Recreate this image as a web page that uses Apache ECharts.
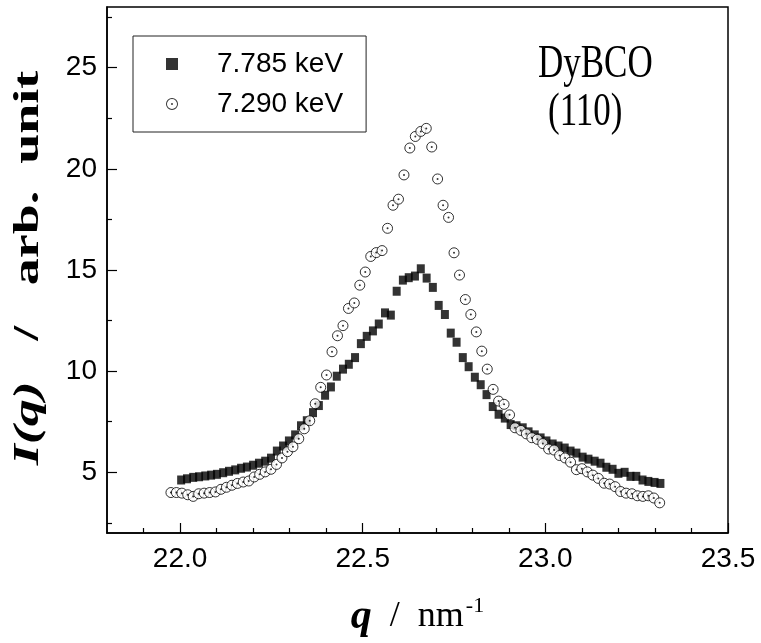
<!DOCTYPE html>
<html>
<head>
<meta charset="utf-8">
<script src="https://cdn.jsdelivr.net/npm/echarts@6/dist/echarts.min.js"></script>
<style>
html,body{margin:0;padding:0;background:#fff;}
#chart{width:761px;height:643px;}
</style>
</head>
<body>
<div id="chart"></div>
<script>
// ---- data ----
const seriesNames = ['7.785 keV', '7.290 keV'];

// 7.785 keV (filled squares)
const qA = [22.003,22.019,22.036,22.052,22.069,22.085,22.101,22.118,22.134,22.151,
  22.167,22.183,22.200,22.216,22.233,22.249,22.265,22.282,22.298,22.315,
  22.331,22.347,22.364,22.380,22.397,22.413,22.429,22.446,22.462,22.479,
  22.495,22.511,22.528,22.544,22.561,22.577,22.593,22.610,22.626,22.643,
  22.659,22.675,22.692,22.708,22.725,22.741,22.757,22.774,22.790,22.807,
  22.823,22.839,22.856,22.872,22.889,22.905,22.921,22.938,22.954,22.971,
  22.987,23.003,23.020,23.036,23.053,23.069,23.085,23.102,23.118,23.135,
  23.151,23.167,23.184,23.200,23.217,23.233,23.249,23.266,23.282,23.299,23.315];
const IA = [4.62,4.68,4.75,4.78,4.82,4.86,4.90,4.98,5.05,5.12,
  5.20,5.26,5.35,5.45,5.55,5.70,6.05,6.30,6.55,6.85,
  7.30,7.55,7.95,8.30,8.81,9.22,9.75,10.10,10.34,10.67,
  11.36,11.72,11.99,12.33,12.88,12.77,13.95,14.50,14.62,14.70,
  15.06,14.60,14.14,13.25,12.80,11.88,11.43,10.67,10.22,9.70,
  9.33,8.84,8.25,7.87,7.68,7.36,7.30,7.20,7.00,6.85,
  6.70,6.55,6.40,6.30,6.20,6.05,5.95,5.75,5.65,5.55,
  5.45,5.25,5.15,4.95,5.00,4.80,4.80,4.62,4.55,4.50,4.45];

// 7.290 keV (open circles)
const qB = [21.975,21.990,22.005,22.021,22.036,22.051,22.066,22.081,22.097,22.112,
  22.127,22.142,22.157,22.173,22.188,22.203,22.218,22.233,22.249,22.264,
  22.279,22.294,22.309,22.325,22.340,22.355,22.370,22.385,22.401,22.416,
  22.431,22.446,22.461,22.477,22.492,22.507,22.522,22.537,22.553,22.568,
  22.583,22.598,22.613,22.629,22.644,22.659,22.674,22.689,22.705,22.720,
  22.735,22.750,22.765,22.781,22.796,22.811,22.826,22.841,22.857,22.872,
  22.887,22.902,22.917,22.933,22.948,22.963,22.978,22.993,23.009,23.024,
  23.039,23.054,23.069,23.085,23.100,23.115,23.130,23.145,23.161,23.176,
  23.191,23.206,23.221,23.237,23.252,23.267,23.282,23.297,23.313];
const IB = [4.00,4.00,3.97,3.89,3.81,3.94,3.97,4.00,4.03,4.16,
  4.26,4.36,4.45,4.52,4.57,4.77,4.90,5.02,5.15,5.39,
  5.71,6.02,6.26,6.66,7.15,7.55,8.39,9.20,9.81,10.96,
  11.75,12.25,13.10,13.37,14.25,14.90,15.67,15.86,15.96,17.06,
  18.20,18.50,19.70,21.03,21.60,21.85,22.00,21.08,19.50,18.20,
  17.60,15.85,14.75,13.54,12.80,11.94,10.99,10.10,9.10,8.52,
  8.36,7.84,7.20,7.07,6.90,6.71,6.63,6.42,6.15,6.10,
  5.83,5.71,5.50,5.13,5.18,5.02,4.86,4.70,4.46,4.42,
  4.29,4.05,3.97,3.94,3.84,3.81,3.84,3.73,3.49];

// axes
const xMajorTicks = [22.0, 22.5, 23.0, 23.5];
const xTickLabels = ['22.0', '22.5', '23.0', '23.5'];
const xMinorTicks = [21.9,22.1,22.2,22.3,22.4,22.6,22.7,22.8,22.9,23.1,23.2,23.3,23.4];
const yMajorTicks = [5, 10, 15, 20, 25];
const yTickLabels = ['5', '10', '15', '20', '25'];
const yMinorTicks = [2.5, 7.5, 12.5, 17.5, 22.5, 27.5];
const annotations = ['DyBCO', '(110)'];

// ---- chart ----
const chart = echarts.init(document.getElementById('chart'), null, {renderer: 'canvas'});
const pairs = (xs, ys) => xs.map((x, i) => [x, ys[i]]);
const ringIcon = 'path://M0,10A10,10,0,1,1,20,10A10,10,0,1,1,0,10Z M1.6,10A8.4,8.4,0,1,0,18.4,10A8.4,8.4,0,1,0,1.6,10Z M8.4,10A1.6,1.6,0,1,1,11.6,10A1.6,1.6,0,1,1,8.4,10Z';
const labelFont = 'Liberation Sans';
const serif = 'Liberation Serif';

const xBase = {type: 'value', min: 21.8, max: 23.5, gridIndex: 0, position: 'bottom', splitLine: {show: false}};
const yBase = {type: 'value', min: 2, max: 28, gridIndex: 0, position: 'left', splitLine: {show: false}};

const option = {
  backgroundColor: '#fff',
  animation: false,
  grid: {left: 107, right: 33, top: 7, bottom: 99, show: true, borderColor: '#000', borderWidth: 1.5, backgroundColor: 'transparent'},
  legend: {
    orient: 'vertical', left: 133, top: 36,
    padding: [14, 23, 14, 33],
    itemGap: 12, itemWidth: 12, itemHeight: 12,
    borderColor: '#222', borderWidth: 1,
    textStyle: {fontFamily: labelFont, fontSize: 28, color: '#000', padding: [0, 0, 0, 34]},
    data: [
      {name: seriesNames[0], icon: 'rect', itemStyle: {color: '#000'}},
      {name: seriesNames[1], icon: ringIcon, itemStyle: {color: '#000', borderWidth: 0}}
    ]
  },
  xAxis: [
    Object.assign({}, xBase, {
      axisLine: {show: true, lineStyle: {color: '#000', width: 1.5}},
      axisTick: {show: true, inside: true, length: 10, customValues: xMajorTicks, lineStyle: {color: '#000', width: 1.2}},
      axisLabel: {show: true, customValues: xMajorTicks, margin: 12, fontFamily: labelFont, fontSize: 28, color: '#000',
        formatter: v => xTickLabels[xMajorTicks.findIndex(t => Math.abs(t - v) < 1e-6)] || ''},
      name: '{q|q}{r|  /  nm}{s|-1}',
      nameLocation: 'middle', nameGap: 62,
      nameTextStyle: {
        rich: {
          q: {fontFamily: serif, fontSize: 42, fontWeight: 'bold', fontStyle: 'italic', color: '#000'},
          r: {fontFamily: serif, fontSize: 36, color: '#000'},
          s: {fontFamily: serif, fontSize: 22, color: '#000', verticalAlign: 'bottom', padding: [0, 0, 22, 2]}
        }
      }
    }),
    Object.assign({}, xBase, {
      axisLine: {show: false},
      axisTick: {show: true, inside: true, length: 5, customValues: xMinorTicks, lineStyle: {color: '#000', width: 1.2}},
      axisLabel: {show: false}
    })
  ],
  yAxis: [
    Object.assign({}, yBase, {
      axisLine: {show: true, lineStyle: {color: '#000', width: 1.5}},
      axisTick: {show: true, inside: true, length: 10, customValues: yMajorTicks, lineStyle: {color: '#000', width: 1.2}},
      axisLabel: {show: true, customValues: yMajorTicks, margin: 10, fontFamily: labelFont, fontSize: 28, color: '#000',
        formatter: v => yTickLabels[yMajorTicks.findIndex(t => Math.abs(t - v) < 1e-6)] || ''}
    }),
    Object.assign({}, yBase, {
      axisLine: {show: false},
      axisTick: {show: true, inside: true, length: 5, customValues: yMinorTicks, lineStyle: {color: '#000', width: 1.2}},
      axisLabel: {show: false}
    })
  ],
  graphic: [
    {type: 'text', x: 29, y: 268, rotation: Math.PI / 2, scaleX: 1.5, scaleY: 1,
      style: {
        text: '{iq|I(q)}{r|   /   arb.  unit}', align: 'center', verticalAlign: 'middle',
        rich: {
          iq: {fontFamily: serif, fontSize: 36, fontWeight: 'bold', fontStyle: 'italic', fill: '#000'},
          r: {fontFamily: serif, fontSize: 36, fontWeight: 'bold', fill: '#000'}
        }
      }},
    {type: 'text', x: 538, y: 65, scaleX: 1, scaleY: 1.35,
      style: {text: annotations[0], font: '35px "Liberation Serif"', fill: '#000', verticalAlign: 'middle'}},
    {type: 'text', x: 548, y: 113, scaleX: 1, scaleY: 1.35,
      style: {text: annotations[1], font: '35px "Liberation Serif"', fill: '#000', verticalAlign: 'middle'}}
  ],
  series: [
    {
      name: seriesNames[0], type: 'scatter', xAxisIndex: 0, yAxisIndex: 0,
      symbol: 'rect', symbolSize: [8, 9],
      itemStyle: {color: '#000'},
      data: pairs(qA, IA), z: 3
    },
    {
      name: seriesNames[1], type: 'scatter', xAxisIndex: 0, yAxisIndex: 0,
      symbol: 'circle', symbolSize: 10,
      itemStyle: {color: '#fff', borderColor: '#000', borderWidth: 1},
      data: pairs(qB, IB), z: 4
    },
    {
      name: 'dots', type: 'scatter', xAxisIndex: 0, yAxisIndex: 0,
      symbol: 'circle', symbolSize: 2, silent: true,
      itemStyle: {color: '#000'},
      data: pairs(qB, IB), z: 5
    }
  ]
};
chart.setOption(option);
</script>
</body>
</html>
